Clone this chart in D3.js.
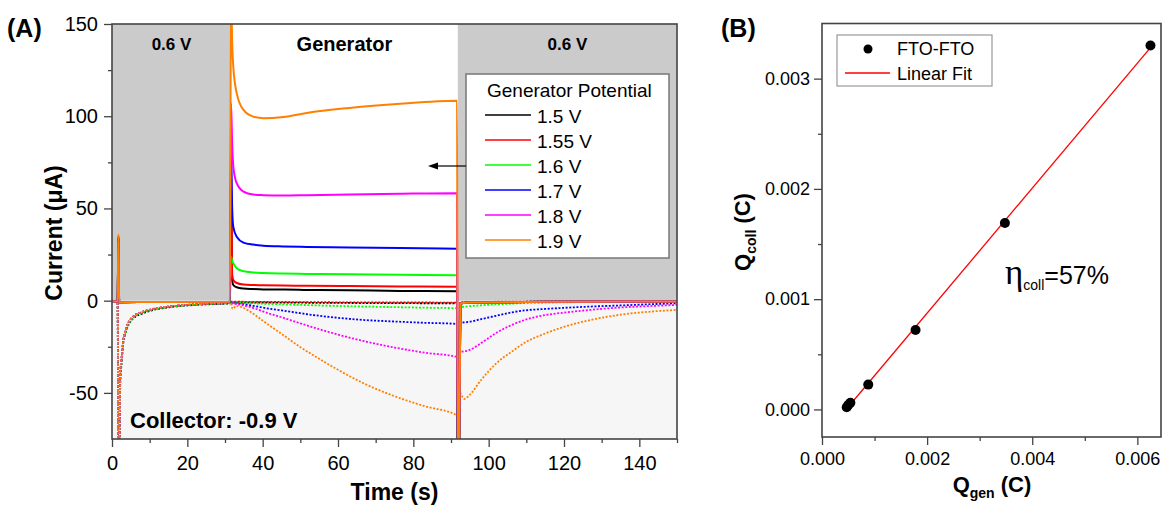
<!DOCTYPE html>
<html>
<head>
<meta charset="utf-8">
<script src="https://cdn.jsdelivr.net/npm/d3@7/dist/d3.min.js"></script>
<style>
  body { margin: 0; background: #fff; }
  svg { display: block; }
  text { font-family: "Liberation Sans", Arial, Helvetica, sans-serif; fill: #000; }
</style>
</head>
<body>
<svg id="chart" width="1164" height="506"></svg>
<script>
// ---------------- Panel A: chronoamperometry ----------------
const potentials = ["1.5 V", "1.55 V", "1.6 V", "1.7 V", "1.8 V", "1.9 V"];
const seriesColors = ["#000000", "#ff0000", "#00ff00", "#0000ff", "#ff00ff", "#ff8000"];

// potential steps applied to the generator electrode (s)
const stepTimes = [0, 31.6, 91.8, 150];
const stepLabels = ["0.6 V", "Generator", "0.6 V"];

// generator current (µA), solid lines
const genTime = [0, 1.5, 1.7, 1.9, 2.3, 10, 31.3, 31.6, 31.9, 32.2, 33.1, 34.9, 37.5, 40.2, 45.5, 51.7, 63, 76.5, 91.6, 91.8, 92.1, 92.5, 95, 120, 150];
const gen15  = [-0.5, -0.5, 34, -0.8, -0.8, -0.7, -0.6, 60, 11, 8.5, 7.3, 6.6, 6.3, 6.1, 6.0, 5.8, 5.6, 5.3, 5.1, -90, -90, -1.5, -1.0, -0.6, -0.4];
const gen155 = [-0.5, -0.5, 35, -0.8, -0.8, -0.7, -0.6, 76, 14, 11.2, 9.6, 8.8, 8.5, 8.3, 8.2, 8.1, 7.9, 7.7, 7.5, -90, -90, -1.5, -1.0, -0.6, -0.4];
const gen16  = [-0.5, -0.5, 33, -0.8, -0.8, -0.7, -0.6, 24, 21.5, 20.3, 17.6, 16.0, 15.3, 15.0, 14.7, 14.5, 14.3, 14.0, 13.8, -90, -90, -1.5, -1.0, -0.6, -0.4];
const gen17  = [-0.5, -0.5, 34, -0.8, -0.8, -0.7, -0.6, 82, 50, 40, 34.7, 31.5, 30.4, 29.8, 29.4, 29.1, 28.8, 28.5, 28.2, -90, -90, -1.5, -1.0, -0.6, -0.4];
const gen18  = [-0.5, -0.5, 35, -0.8, -0.8, -0.7, -0.6, 107, 85, 72.7, 63.7, 59.1, 57.5, 57.2, 57.0, 57.2, 57.6, 58.0, 58.3, -90, -90, -1.5, -1.0, -0.6, -0.4];
const gen19  = [-0.5, -0.5, 36, -0.8, -0.8, -0.7, -0.6, 170, 140, 127, 112.5, 103.4, 99.8, 98.9, 99.6, 101.8, 104.5, 106.8, 108.4, -90, -90, -1.5, -1.0, -0.6, -0.4];

// collector current (µA) at -0.9 V, dotted lines
const colTime = [0, 1.5, 1.7, 1.95, 2.2, 2.6, 3, 3.5, 4, 5, 6, 8, 11, 15, 20, 25, 31.3,
                 31.6, 32, 33, 35, 38, 41, 45, 50, 55, 60, 67, 75, 83, 91.6,
                 91.8, 92.1,
                 92.4, 93.5, 95, 98, 102, 106, 110, 115, 120, 127, 135, 142, 150];
const col15  = [-0.4, -0.4, -100, -80, -44, -33, -23, -18.5, -15, -11, -9, -7, -5, -3.6, -2.6, -2.0, -1.5,
                -1.0, -1.0, -1.0, -1.0, -1.0, -1.0, -1.1, -1.1, -1.2, -1.2, -1.3, -1.3, -1.4, -1.4,
                -100, -100,
                -1.2, -1.1, -1.0, -0.9, -0.8, -0.7, -0.6, -0.6, -0.5, -0.5, -0.4, -0.4, -0.3];
const col155 = [-0.3, -0.3, -100, -80, -40, -30, -21, -17, -13.5, -10, -8, -6.2, -4.5, -3.2, -2.3, -1.7, -1.2,
                -0.5, -0.6, -0.6, -0.6, -0.7, -0.7, -0.7, -0.8, -0.8, -0.9, -0.9, -1.0, -1.0, -1.1,
                -100, -100,
                -0.9, -0.8, -0.8, -0.7, -0.6, -0.6, -0.5, -0.5, -0.4, -0.4, -0.4, -0.3, -0.3];
const col16  = [-0.3, -0.3, -100, -80, -42, -32, -22, -18, -14.5, -10.8, -8.6, -6.6, -4.8, -3.4, -2.5, -1.9, -1.4,
                -0.8, -1.0, -1.1, -1.3, -1.5, -1.7, -2.0, -2.3, -2.6, -2.9, -3.2, -3.5, -3.8, -4.1,
                -100, -100,
                -3.5, -3.3, -3.0, -2.5, -2.0, -1.6, -1.3, -1.1, -0.9, -0.8, -0.7, -0.6, -0.5];
const col17  = [-0.3, -0.3, -100, -80, -40, -30, -21, -17, -13.5, -10, -8, -6.2, -4.5, -3.2, -2.3, -1.7, -1.2,
                -1.0, -1.3, -1.5, -2.0, -3.0, -4.1, -5.3, -6.8, -8.2, -9.3, -10.5, -11.3, -12.0, -12.6,
                -100, -100,
                -11.9, -11.8, -11.4, -10.0, -8.2, -6.4, -5.2, -4.5, -3.9, -3.2, -2.6, -2.0, -1.4];
const col18  = [-0.3, -0.3, -100, -80, -40, -30, -21, -17, -13.5, -10, -8, -6.2, -4.5, -3.2, -2.3, -1.7, -1.2,
                -1.0, -1.5, -1.8, -2.6, -4.3, -6.5, -9.0, -12.3, -15.5, -18.4, -22.0, -25.4, -28.2, -30.5,
                -100, -100,
                -27.8, -27.5, -26.7, -23.0, -17.5, -13.3, -10.2, -7.8, -6.5, -5.0, -3.7, -3.0, -2.3];
const col19  = [-0.3, -0.3, -100, -80, -40, -30, -21, -17, -13.5, -10, -8, -6.2, -4.5, -3.2, -2.3, -1.7, -1.2,
                -1.5, -4.5, -2.8, -4.0, -7.8, -12.3, -18.0, -25.2, -31.5, -37.5, -45.0, -51.8, -57.2, -62.2,
                -100, -100,
                -50.2, -53.3, -51.0, -43.0, -34.0, -27.8, -22.3, -17.8, -14.2, -10.5, -7.6, -6.1, -5.0];

const genSeries = [gen15, gen155, gen16, gen17, gen18, gen19];
const colSeries = [col15, col155, col16, col17, col18, col19];

const xTicksA = [0, 20, 40, 60, 80, 100, 120, 140];
const xMinorA = [10, 30, 50, 70, 90, 110, 130, 150];
const yTicksA = [-50, 0, 50, 100, 150];
const yMinorA = [-25, 25, 75, 125];

// ---------------- Panel B: collection efficiency ----------------
const qGen  = [0.00047, 0.00050, 0.00054, 0.00088, 0.00178, 0.00348, 0.00625];
const qColl = [0.00002, 0.00004, 0.00006, 0.000225, 0.00072, 0.00169, 0.00330];
const xTicksB = [0, 0.002, 0.004, 0.006];
const xMinorB = [0.001, 0.003, 0.005];
const yTicksB = [0, 0.001, 0.002, 0.003];
const yMinorB = [0.0005, 0.0015, 0.0025];

const svg = d3.select("#chart");
const axisColor = "#444";

function styleAxis(g) {
  g.select(".domain").remove();
  g.selectAll(".tick line").attr("stroke", axisColor).attr("stroke-width", 1.3);
}

// ======== Panel A ========
const xA = d3.scaleLinear().domain([0, 150]).range([112, 677]);
const yA = d3.scaleLinear().domain([-75, 150]).range([439, 24]);

const gA = svg.append("g");
svg.append("defs").append("clipPath").attr("id", "clipA")
  .append("rect").attr("x", xA(0)).attr("y", yA(150))
  .attr("width", xA(150) - xA(0)).attr("height", yA(-75) - yA(150));

// background shading: light lower half, grey for 0.6 V steps
gA.append("rect").attr("x", xA(0)).attr("y", yA(0))
  .attr("width", xA(150) - xA(0)).attr("height", yA(-75) - yA(0)).attr("fill", "#f6f6f6");
stepLabels.forEach((lab, i) => {
  if (lab !== "Generator") {
    gA.append("rect").attr("x", xA(stepTimes[i])).attr("y", yA(150))
      .attr("width", xA(stepTimes[i + 1]) - xA(stepTimes[i]))
      .attr("height", yA(0) - yA(150)).attr("fill", "#cbcbcb");
  }
});

const curves = gA.append("g").attr("clip-path", "url(#clipA)");
const lineGen = d3.line().curve(d3.curveMonotoneX);

colSeries.forEach((vals, i) => {
  curves.append("path")
    .attr("d", lineGen(colTime.map((t, k) => [xA(t), yA(vals[k])])))
    .attr("fill", "none").attr("stroke", seriesColors[i])
    .attr("stroke-width", 1.8).attr("stroke-dasharray", "2,1.6");
});
genSeries.forEach((vals, i) => {
  curves.append("path")
    .attr("d", lineGen(genTime.map((t, k) => [xA(t), yA(vals[k])])))
    .attr("fill", "none").attr("stroke", seriesColors[i])
    .attr("stroke-width", 2);
});

// step labels
stepLabels.forEach((lab, i) => {
  gA.append("text")
    .attr("x", xA((stepTimes[i] + stepTimes[i + 1]) / 2)).attr("y", lab === "Generator" ? 51 : 50)
    .attr("text-anchor", "middle").attr("font-weight", "bold")
    .attr("font-size", lab === "Generator" ? 20 : 17).text(lab);
});

gA.append("text").attr("x", 130).attr("y", 428)
  .attr("font-weight", "bold").attr("font-size", 22).text("Collector: -0.9 V");

// legend
const lg = gA.append("g");
lg.append("rect").attr("x", 466).attr("y", 74).attr("width", 203).attr("height", 184)
  .attr("fill", "#fff").attr("stroke", "#777").attr("stroke-width", 1.5);
lg.append("text").attr("x", 487).attr("y", 97).attr("font-size", 19).text("Generator Potential");
potentials.forEach((p, i) => {
  const y = 115 + i * 25;
  lg.append("line").attr("x1", 485).attr("x2", 531).attr("y1", y).attr("y2", y)
    .attr("stroke", seriesColors[i]).attr("stroke-width", 1.5);
  lg.append("text").attr("x", 537).attr("y", y + 7.5).attr("font-size", 19).text(p);
});

// arrow pointing to generator curves
gA.append("line").attr("x1", 466).attr("x2", 436).attr("y1", 166).attr("y2", 166)
  .attr("stroke", "#000").attr("stroke-width", 1.2);
gA.append("path").attr("d", "M428,166 L438,162.5 L438,169.5 Z").attr("fill", "#000");

// axes
const axA = gA.append("g");
axA.append("g").attr("transform", `translate(0,${yA(-75)})`)
  .call(d3.axisBottom(xA).tickValues(xTicksA).tickSize(8).tickPadding(9).tickFormat(d => String(d)))
  .call(styleAxis).call(g => g.selectAll("text").attr("font-size", 20).attr("font-family", null));
axA.append("g").attr("transform", `translate(0,${yA(-75)})`)
  .call(d3.axisBottom(xA).tickValues(xMinorA).tickSize(4).tickFormat(""))
  .call(styleAxis);
axA.append("g").attr("transform", `translate(${xA(0)},0)`)
  .call(d3.axisLeft(yA).tickValues(yTicksA).tickSize(8).tickPadding(6).tickFormat(d => String(d)))
  .call(styleAxis).call(g => g.selectAll("text").attr("font-size", 20).attr("font-family", null));
axA.append("g").attr("transform", `translate(${xA(0)},0)`)
  .call(d3.axisLeft(yA).tickValues(yMinorA).tickSize(4).tickFormat(""))
  .call(styleAxis);
axA.append("rect").attr("x", xA(0)).attr("y", yA(150))
  .attr("width", xA(150) - xA(0)).attr("height", yA(-75) - yA(150))
  .attr("fill", "none").attr("stroke", axisColor).attr("stroke-width", 1.6);

gA.append("text").attr("transform", "translate(62,233) rotate(-90)")
  .attr("text-anchor", "middle").attr("font-weight", "bold").attr("font-size", 23)
  .text("Current (μA)");
gA.append("text").attr("x", xA(75)).attr("y", 500)
  .attr("text-anchor", "middle").attr("font-weight", "bold").attr("font-size", 23).text("Time (s)");
gA.append("text").attr("x", 7).attr("y", 37)
  .attr("font-weight", "bold").attr("font-size", 25).text("(A)");

// ======== Panel B ========
const xB = d3.scaleLinear().domain([0, 0.00645]).range([822, 1161]);
const yB = d3.scaleLinear().domain([-0.00025, 0.0035]).range([437, 23.5]);
const gB = svg.append("g");

// least-squares linear fit through the points
const mx = d3.mean(qGen), my = d3.mean(qColl);
const slope = d3.sum(qGen, (x, i) => (x - mx) * (qColl[i] - my)) / d3.sum(qGen, x => (x - mx) * (x - mx));
const icpt = my - slope * mx;
const xFit = d3.extent(qGen);
gB.append("line")
  .attr("x1", xB(xFit[0])).attr("y1", yB(slope * xFit[0] + icpt))
  .attr("x2", xB(xFit[1])).attr("y2", yB(slope * xFit[1] + icpt))
  .attr("stroke", "#ff0000").attr("stroke-width", 1.3);

gB.selectAll("circle.pt").data(qGen).join("circle").attr("class", "pt")
  .attr("cx", d => xB(d)).attr("cy", (d, i) => yB(qColl[i])).attr("r", 5).attr("fill", "#000");

const axB = gB.append("g");
const fmtB = d3.format(".3f");
axB.append("g").attr("transform", `translate(0,${yB(-0.00025)})`)
  .call(d3.axisBottom(xB).tickValues(xTicksB).tickSize(8).tickPadding(7).tickFormat(fmtB))
  .call(styleAxis).call(g => g.selectAll("text").attr("font-size", 18).attr("font-family", null));
axB.append("g").attr("transform", `translate(0,${yB(-0.00025)})`)
  .call(d3.axisBottom(xB).tickValues(xMinorB).tickSize(4).tickFormat(""))
  .call(styleAxis);
axB.append("g").attr("transform", `translate(${xB(0)},0)`)
  .call(d3.axisLeft(yB).tickValues(yTicksB).tickSize(8).tickPadding(4).tickFormat(fmtB))
  .call(styleAxis).call(g => g.selectAll("text").attr("font-size", 18).attr("font-family", null));
axB.append("g").attr("transform", `translate(${xB(0)},0)`)
  .call(d3.axisLeft(yB).tickValues(yMinorB).tickSize(4).tickFormat(""))
  .call(styleAxis);
axB.append("rect").attr("x", xB(0)).attr("y", yB(0.0035))
  .attr("width", xB(0.00645) - xB(0)).attr("height", yB(-0.00025) - yB(0.0035))
  .attr("fill", "none").attr("stroke", axisColor).attr("stroke-width", 1.6);

// legend
const lgB = gB.append("g");
lgB.append("rect").attr("x", 837).attr("y", 35).attr("width", 155).attr("height", 51)
  .attr("fill", "#fff").attr("stroke", "#999").attr("stroke-width", 1.2);
lgB.append("circle").attr("cx", 868).attr("cy", 49).attr("r", 4.5).attr("fill", "#000");
lgB.append("text").attr("x", 897).attr("y", 55).attr("font-size", 18).text("FTO-FTO");
lgB.append("line").attr("x1", 845).attr("x2", 890).attr("y1", 73).attr("y2", 73)
  .attr("stroke", "#ff0000").attr("stroke-width", 1.3);
lgB.append("text").attr("x", 897).attr("y", 80).attr("font-size", 18).text("Linear Fit");

// annotation
const eta = gB.append("text").attr("x", 1005).attr("y", 284);
eta.append("tspan").attr("font-family", "'Liberation Serif', 'Times New Roman', serif").attr("font-size", 35).text("η");
eta.append("tspan").attr("font-size", 14).attr("dy", 6).text("coll");
eta.append("tspan").attr("font-size", 25).attr("dy", -6).text("=" + Math.round(slope * 100) + "%");

// axis titles
const yt = gB.append("text").attr("transform", "translate(750,232) rotate(-90)")
  .attr("text-anchor", "middle").attr("font-weight", "bold").attr("font-size", 22);
yt.append("tspan").text("Q");
yt.append("tspan").attr("font-size", 14).attr("dy", 6).text("coll");
yt.append("tspan").attr("dy", -6).text(" (C)");

const xt = gB.append("text").attr("x", 992).attr("y", 492)
  .attr("text-anchor", "middle").attr("font-weight", "bold").attr("font-size", 22);
xt.append("tspan").text("Q");
xt.append("tspan").attr("font-size", 14).attr("dy", 6).text("gen");
xt.append("tspan").attr("dy", -6).text(" (C)");

gB.append("text").attr("x", 721).attr("y", 37)
  .attr("font-weight", "bold").attr("font-size", 25).text("(B)");
</script>
</body>
</html>
